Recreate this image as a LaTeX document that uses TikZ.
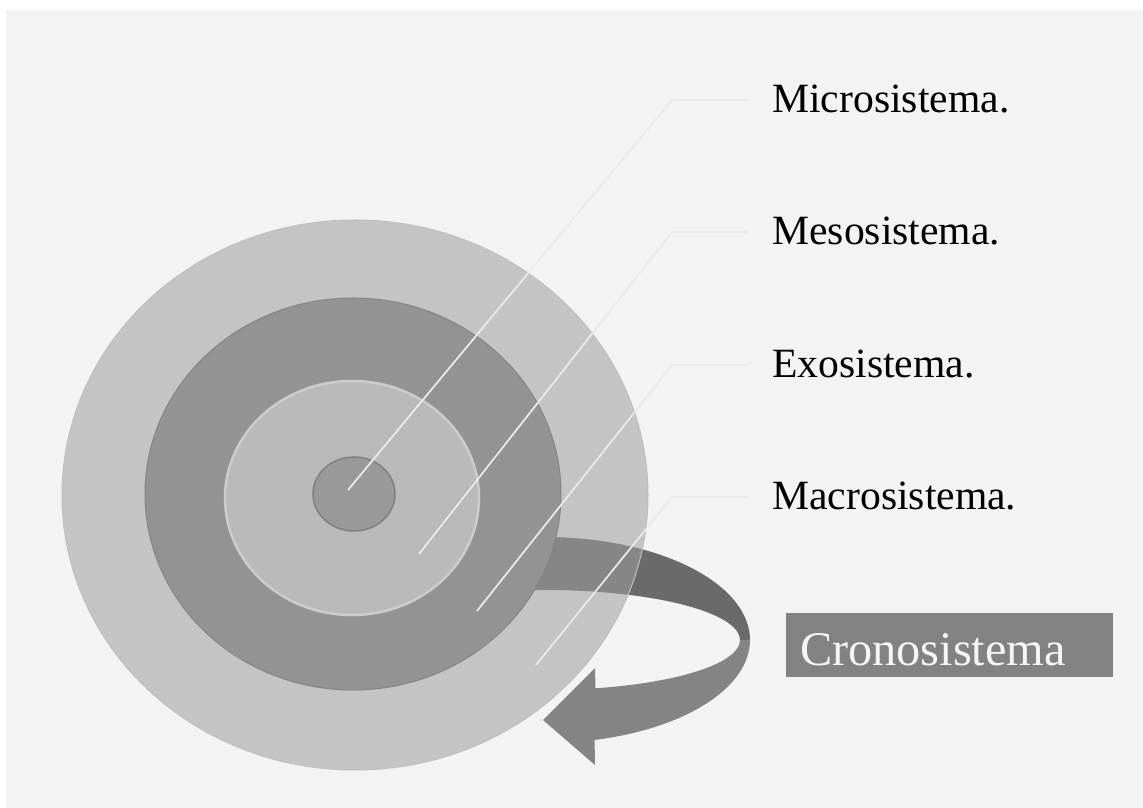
\documentclass[tikz,border=0pt]{standalone}
\usepackage{fontspec}
\setmainfont{Liberation Serif}
\definecolor{bgcol}{HTML}{F3F3F3}
\definecolor{outercol}{HTML}{9E9E9E}
\definecolor{ringcol}{HTML}{939393}
\definecolor{innercol}{HTML}{B9B9B9}
\definecolor{corecol}{HTML}{999999}
\definecolor{arrback}{HTML}{6A6A6A}
\definecolor{arrfront}{HTML}{848484}
\definecolor{leadcol}{HTML}{EAEAEA}
\definecolor{cronocol}{HTML}{828282}
\tikzset{
	leader/.style={draw=leadcol, line width=0.035cm},
	syslabel/.style={anchor=west, inner xsep=0.5cm, inner ysep=0pt, text height=14.7pt, text depth=0pt, font=\fontsize{23.7}{28}\selectfont},
	cronobox/.style={fill=cronocol, text=white!96!black, minimum width=6.54cm, minimum height=1.28cm, inner xsep=0.28cm, inner ysep=0pt, text width=5.98cm, align=left, text height=23.7pt, text depth=0pt, font=\fontsize{27.5}{30}\selectfont}
}
\begin{document}
\begin{tikzpicture}[x=0.02cm, y=0.02cm]
	\useasboundingbox (0,0) rectangle (1143,808);
	\fill[white] (0,0) rectangle (1143,808);
	\fill[bgcol] (6,0) rectangle (1143,798);
	% curved arrow (goes behind the outer disk)
	\begin{scope}[shift={(545,168)}]
		\filldraw[fill=arrback, draw=none] (100:205 and 103) arc[start angle=100, end angle=0, x radius=205, y radius=103]
			-- (0:195 and 50) arc[start angle=0, end angle=100, x radius=195, y radius=50] -- cycle;
		\filldraw[fill=arrfront, draw=none] (0:205 and 103) arc[start angle=0, end angle=-76, x radius=205, y radius=103]
			-- (50,-125) -- (-2,-80) -- (50,-28)
			-- (-75:195 and 50) arc[start angle=-75, end angle=0, x radius=195, y radius=50] -- cycle;
	\end{scope}
	% the four systems
	\filldraw[fill=outercol, draw=black!25!white, fill opacity=0.55, line width=0.02cm] (355,313) ellipse[x radius=293, y radius=275];
	\filldraw[fill=ringcol, draw=black!48!white, line width=0.02cm] (353,314) ellipse[x radius=208, y radius=196];
	\filldraw[fill=innercol, draw=black!20!white, line width=0.05cm] (352,310) ellipse[x radius=127, y radius=117];
	\filldraw[fill=corecol, draw=black!50!white, line width=0.03cm] (354,314) ellipse[x radius=41, y radius=37];
	% labels
	\node[syslabel] (micro) at (747,708) {Microsistema.};
	\node[syslabel] (meso) at (747,576) {Mesosistema.};
	\node[syslabel] (exo) at (747,443) {Exosistema.};
	\node[syslabel] (macro) at (747,311) {Macrosistema.};
	\node[cronobox] (crono) at (949.5,163) {Cronosistema};
	\coordinate (pmicro) at (348,318);
	\coordinate (kmicro) at (672,708);
	\coordinate (pmeso) at (419,254);
	\coordinate (kmeso) at (672,576);
	\coordinate (pexo) at (477,197);
	\coordinate (kexo) at (672,443);
	\coordinate (pmacro) at (536,143);
	\coordinate (kmacro) at (672,311);
	\draw[leader] (pmicro) -- (kmicro) -- (micro.west);
	\draw[leader] (pmeso) -- (kmeso) -- (meso.west);
	\draw[leader] (pexo) -- (kexo) -- (exo.west);
	\draw[leader] (pmacro) -- (kmacro) -- (macro.west);
\end{tikzpicture}
\end{document}
